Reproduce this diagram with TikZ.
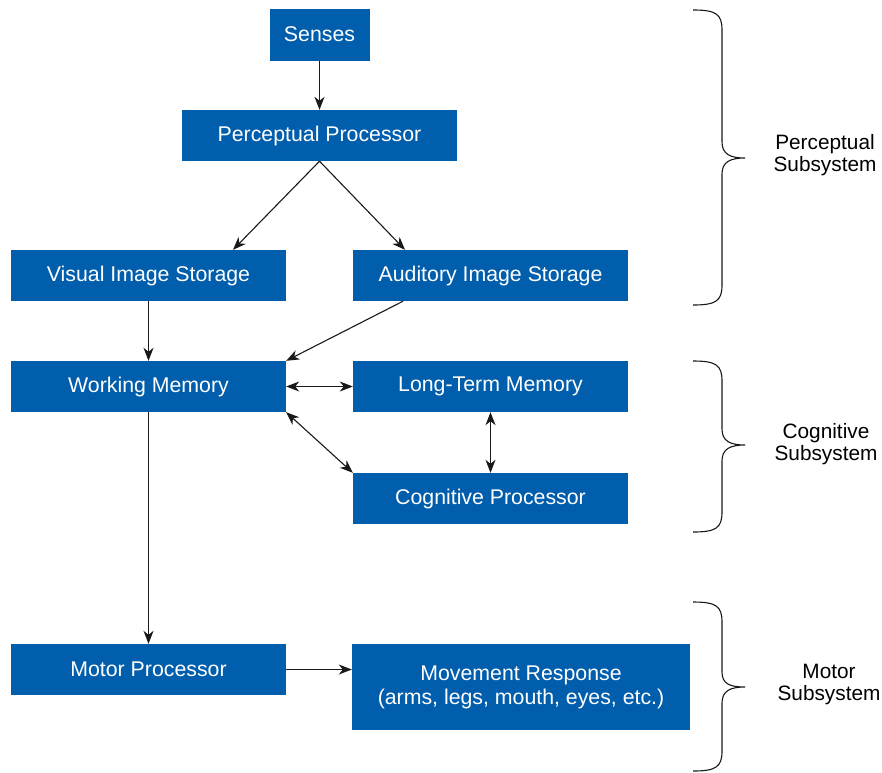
\documentclass[tikz,border=0pt]{standalone}
\usepackage{fontspec}
\setmainfont{Liberation Sans}
\usetikzlibrary{arrows.meta}
\definecolor{boxblue}{RGB}{0,94,172}
\tikzset{
  box/.style={fill=boxblue, text=white, inner sep=0pt, minimum height=51pt, minimum width=275pt,
    font=\fontsize{21.3}{24}\selectfont, align=center},
  tip/.tip={Stealth[length=13pt,width=10pt,inset=4pt]},
  conn/.style={draw=black!90, line width=1.1pt, -tip},
  biconn/.style={draw=black!90, line width=1.1pt, tip-tip},
  bracestyle/.style={draw=black!90, line width=1.1pt},
  lab/.style={font=\fontsize{20.8}{22}\selectfont, align=center, inner sep=0pt}
}
\begin{document}
\begin{tikzpicture}[x=1pt,y=-1pt]
\useasboundingbox (0,0) rectangle (882,772);
\node[box, minimum width=100pt, minimum height=52pt] (senses) at (319.5,34.5) {Senses};
\node[box] (pp) at (319.5,135.5) {Perceptual Processor};
\node[box] (vis) at (148.5,275.5) {Visual Image Storage};
\node[box] (ais) at (490.5,275.5) {Auditory Image Storage};
\node[box] (wm) at (148.5,386.5) {Working Memory};
\node[box] (ltm) at (490.5,386.5) {Long-Term Memory};
\node[box] (cp) at (490.5,498.5) {Cognitive Processor};
\node[box] (mp) at (148.5,669.5) {Motor Processor};
\node[box, minimum width=338pt, minimum height=86pt] (mr) at (521,687) {Movement Response\\(arms, legs, mouth, eyes, etc.)};

\draw[conn] (senses.south) -- (senses.south |- pp.north);
\draw[conn] (pp.south) -- (vis.north -| 233,0);
\draw[conn] (pp.south) -- (ais.north -| 405,0);
\draw[conn] (vis.south) -- (wm.north);
\draw[conn] (ais.south -| 403,0) -- (wm.north east);
\draw[biconn] (wm.east) -- (ltm.west);
\draw[biconn] (wm.south east) -- (cp.north west);
\draw[biconn] (ltm.south) -- (cp.north);
\draw[conn] (wm.south) -- (mp.north);
\draw[conn] (mp.east) -- (mr.west |- mp.east);

% braces
\draw[bracestyle] (693,10) .. controls (716,10) and (722,14) .. (722,30)
  -- (722,142) .. controls (722,154) and (730,158) .. (745,158)
  .. controls (730,158) and (722,162) .. (722,174)
  -- (722,285) .. controls (722,301) and (716,305) .. (693,305);
\draw[bracestyle] (693,361) .. controls (716,361) and (722,365) .. (722,381)
  -- (722,429) .. controls (722,441) and (730,445) .. (745,445)
  .. controls (730,445) and (722,449) .. (722,461)
  -- (722,512) .. controls (722,528) and (716,532) .. (693,532);
\draw[bracestyle] (693,602) .. controls (716,602) and (722,606) .. (722,622)
  -- (722,672) .. controls (722,684) and (730,687) .. (745,687)
  .. controls (730,687) and (722,691) .. (722,703)
  -- (722,751) .. controls (722,767) and (716,771) .. (693,771);

\node[lab] (lperc) at (825,155) {Perceptual\\Subsystem};
\node[lab] (lcog) at (826,444) {Cognitive\\Subsystem};
\node[lab] (lmot) at (829,684) {Motor\\Subsystem};
\end{tikzpicture}
\end{document}
